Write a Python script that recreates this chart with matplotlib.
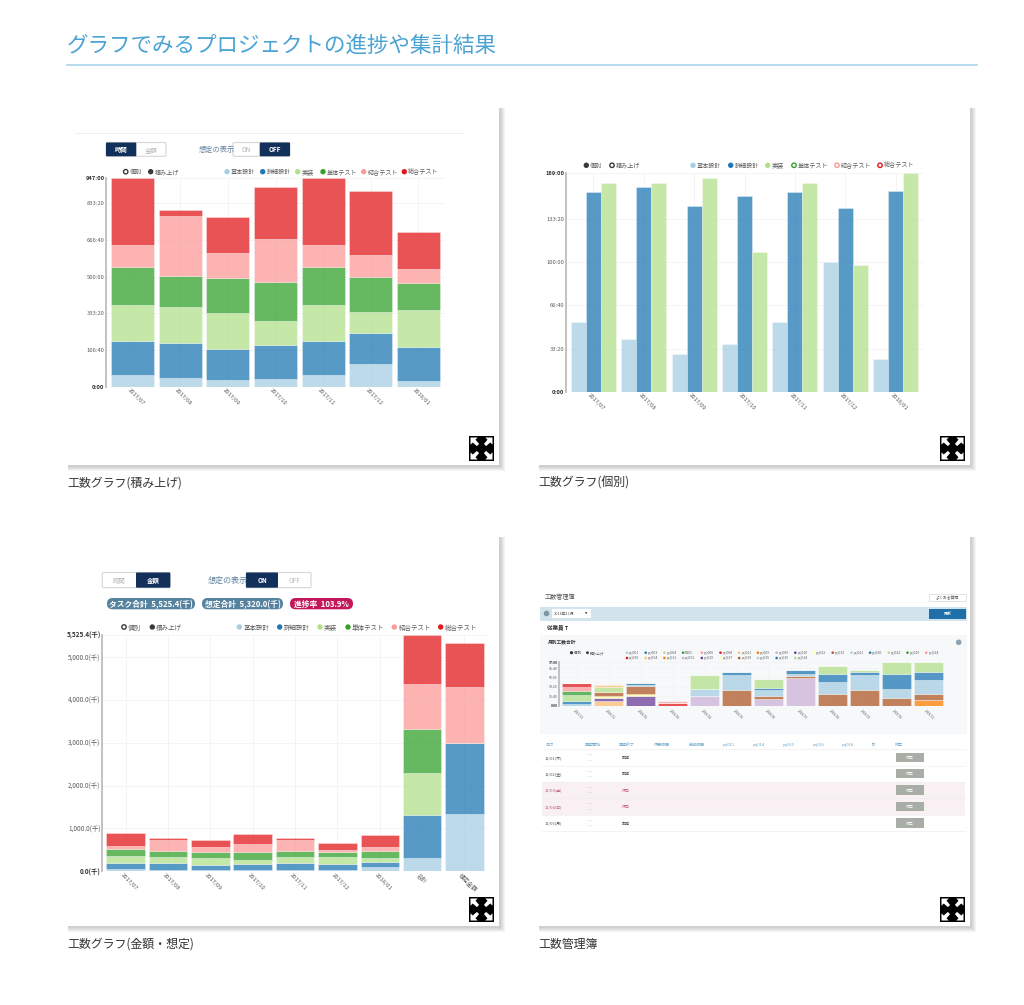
import matplotlib
matplotlib.use('Agg')
import numpy as np
import matplotlib.pyplot as plt
from matplotlib.patches import Rectangle, FancyBboxPatch, Polygon, Circle
from matplotlib.transforms import ScaledTranslation

plt.rcParams['font.family'] = ['Noto Sans CJK JP', 'DejaVu Sans']

W, H = 1024, 1005

# colours of the phases
C_BASIC = '#a6cee3'
C_DETAIL = '#1f78b4'
C_IMPL = '#b2df8a'
C_UNIT = '#33a02c'
C_INTEG = '#fb9a99'
C_SYS = '#e31a1c'
NAVY = '#12305a'
GREY_TXT = '#5c5c5c'

months = ['2017/07', '2017/08', '2017/09', '2017/10', '2017/11', '2017/12', '2018/01']
phases = ['基本設計', '詳細設計', '実装', '単体テスト', '結合テスト', '総合テスト']

# stacked hours chart
st_basic = [53, 41, 29, 36, 53, 102, 26]
st_detail = [155, 159, 142, 152, 155, 141, 153]
st_impl = [162, 161, 165, 108, 162, 98, 170]
st_unit = [173, 142, 155, 179, 173, 159, 123]
st_integ = [102, 271, 115, 195, 102, 97, 61]
st_sys = [302, 27, 164, 235, 302, 291, 167]
st_ticks = [0, 166.667, 333.333, 500, 666.667, 833.333, 947]
st_ticklabels = ['0:00', '166:40', '333:20', '500:00', '666:40', '833:20', '947:00']

# grouped hours chart
gr_basic = [54, 41, 29, 37, 54, 100, 25]
gr_detail = [154, 158, 143, 151, 154, 142, 154.5]
gr_impl = [161, 161, 165, 108, 161, 98, 169]
gr_ticks = [0, 33.333, 66.667, 100, 133.333, 169]
gr_ticklabels = ['0:00', '33:20', '66:40', '100:00', '133:20', '169:00']

# cost chart
cost_cats = months + ['合計', '想定金額']
cost_basic = [54, 40, 31, 31, 40, 31, 101, 311, 1330]
cost_detail = [140, 148, 124, 140, 148, 140, 124, 1004, 1660]
cost_impl = [156, 156, 156, 101, 156, 156, 93, 972, 0]
cost_unit = [163, 132, 148, 171, 132, 117, 148, 1027, 0]
cost_integ = [78, 257, 109, 187, 257, 54, 93, 1050, 1323]
cost_sys = [303, 39, 163, 233, 39, 171, 288, 1161, 1007]
cost_ticks = [0, 1000, 2000, 3000, 4000, 5000, 5525.4]
cost_ticklabels = ['0.0(千)', '1,000.0(千)', '2,000.0(千)', '3,000.0(千)', '4,000.0(千)',
                   '5,000.0(千)', '5,525.4(千)']

# project chart in the ledger screenshot
led_months = ['2017/12', '2018/01', '2018/02', '2018/03', '2018/04', '2018/05', '2018/06',
              '2018/07', '2018/08', '2018/09', '2018/10', '2018/11']
led_ticks = [0, 16.667, 33.333, 50, 66.667, 77]
led_ticklabels = ['0:00', '16:40', '33:20', '50:00', '66:40', '77:00']
led_colors = ['#a6cee3', '#1f78b4', '#b2df8a', '#33a02c', '#fb9a99', '#e31a1c', '#fdbf6f', '#ff7f00',
              '#cab2d6', '#6a3d9a', '#ffff99', '#b15928', '#a6cee3', '#1f78b4', '#b2df8a', '#fb9a99',
              '#fdbf6f']
led_series = [
    [3, 0, 0, 0, 0, 0, 0, 0, 0, 0, 0, 0],
    [5.9, 0, 0, 0, 0, 0, 0, 0, 0, 0, 0, 0],
    [9.4, 0, 0, 0, 0, 0, 0, 0, 0, 0, 0, 0],
    [7.1, 0, 0, 0, 0, 0, 0, 0, 0, 0, 0, 0],
    [7.1, 0, 0, 0, 0, 0, 0, 0, 0, 0, 0, 0],
    [8.3, 0, 0, 4.7, 0, 0, 0, 0, 0, 0, 0, 0],
    [0, 8.9, 0, 0, 0, 0, 0, 0, 0, 0, 0, 0],
    [0, 0, 0, 0, 0, 0, 0, 0, 0, 0, 0, 10.6],
    [0, 0, 0, 0, 17.1, 0, 11.8, 49, 0, 0, 0, 0],
    [0, 4.1, 17.7, 0, 0, 0, 0, 0, 0, 0, 0, 0],
    [0, 4.7, 2.4, 0, 0, 0, 0, 0, 0, 0, 0, 0],
    [0, 5.9, 14.8, 0, 0, 27.7, 5.9, 4.1, 21.2, 27.7, 14.2, 10.6],
    [0, 0, 1.8, 0, 12.4, 26.6, 9.4, 2.4, 20.1, 27.1, 15.9, 23.6],
    [0, 0, 3.5, 0, 0, 4.7, 3.5, 7.1, 14.8, 4.1, 25.4, 14.2],
    [0, 8.9, 0, 0, 24.8, 0, 17.1, 0, 13.6, 4.7, 21.2, 17.7],
    [0, 0, 0, 3, 0, 0, 0, 0, 0, 0, 0, 0],
    [0, 4.7, 0, 0, 0, 0, 0, 0, 0, 0, 0, 0],
]
led_leg1 = ['prj001', 'prj003', 'prj004', 'R101', 'prj006', 'prj008', 'prj021', 'prj009', 'prj009',
            'prj010', 'prj012', 'prj013', 'prj021', 'prj020', 'prj022', 'prj025', 'prj024']
led_leg2 = ['prj050', 'prj054', 'prj011', 'prj052', 'prj019', 'prj017', 'prj019', 'prj015', 'prj015',
            'prj014']
led_leg1_colors = led_colors[:12] + ['#a6cee3', '#1f78b4', '#b2df8a', '#33a02c', '#fb9a99']
led_leg2_colors = ['#e31a1c', '#fdbf6f', '#ff7f00', '#cab2d6', '#6a3d9a', '#ffff99', '#b15928',
                   '#a6cee3', '#1f78b4', '#b2df8a']

table_cols = ['日付', '業務開始', '業務終了', '休憩時間', '労働時間', 'prj011', 'prj014', 'prj015', 'prj016',
              'prj018', '計', '修正']
table_days = ['11/01(木)', '11/02(金)', '11/03(土)', '11/04(日)', '11/05(月)']
table_status = ['勤務', '勤務', '休日', '休日', '勤務']

fig = plt.figure(figsize=(W / 100, H / 100), dpi=100, facecolor='white')
bg = fig.add_axes([0, 0, 1, 1], zorder=0)
bg.set_xlim(0, W)
bg.set_ylim(H, 0)
bg.axis('off')


def pix_axes(x0, y0, x1, y1):
    ax = fig.add_axes([x0 / W, 1 - y1 / H, (x1 - x0) / W, (y1 - y0) / H], zorder=2)
    ax.patch.set_alpha(0)
    return ax


def label(x, y, s, fs, color=GREY_TXT, **kw):
    # baseline placed so that every string sits on one line, whatever its glyphs
    bg.text(x, y + fs * 0.55, s, fontsize=fs, color=color, va='baseline', **kw)


def card(x0, y0, x1, y1):
    for i in range(1, 6):
        bg.add_patch(Rectangle((x0 + 1, y0 + 2), x1 - x0 + i, y1 - y0 + i - 1, fc='#000000', alpha=0.04,
                               lw=0))
    bg.add_patch(Rectangle((x0, y0), x1 - x0, y1 - y0, fc='white', lw=0))
    # expand icon
    ix0, iy0 = x1 - 30, y1 - 29
    s = 25
    bg.add_patch(Rectangle((ix0, iy0), s, s, fc='black', lw=0))
    cx, cy = ix0 + s / 2, iy0 + s / 2
    for sx, sy in [(-1, -1), (1, -1), (-1, 1), (1, 1)]:
        pts = [(11, 11), (3.8, 11), (6, 8.8), (2.4, 4.6), (4.6, 2.4), (8.8, 6), (11, 3.8)]
        bg.add_patch(Polygon([(cx + sx * a, cy + sy * b) for a, b in pts], fc='white', lw=0))


def style_axes(ax, ticks, labels, xlim, ymax, fs=4.2, xfs=4.2, pad_x=2, dx=-4.5):
    ax.set_xlim(*xlim)
    ax.set_ylim(0, ymax)
    ax.set_yticks(ticks)
    ax.set_yticklabels(labels, fontsize=fs, color=GREY_TXT)
    for i in (0, len(labels) - 1):
        ax.get_yticklabels()[i].set_fontweight('bold')
        ax.get_yticklabels()[i].set_color('#333333')
    ax.grid(True, color='#f4f4f4', lw=0.7)
    ax.set_axisbelow(True)
    for s in ('top', 'right', 'bottom'):
        ax.spines[s].set_visible(False)
    ax.spines['left'].set_color('#bdbdbd')
    ax.spines['left'].set_linewidth(1.3)
    ax.tick_params(axis='y', length=0, pad=1)
    ax.tick_params(axis='x', length=0, pad=pad_x)
    shift = ScaledTranslation(dx / 100, 0, fig.dpi_scale_trans)
    for t in ax.get_xticklabels():
        t.set_rotation(-45)
        t.set_ha('left')
        t.set_va('center')
        t.set_rotation_mode('anchor')
        t.set_fontsize(xfs)
        t.set_color(GREY_TXT)
        t.set_transform(t.get_transform() + shift)


def stacked(ax, cats, series, colors, width):
    xs = np.arange(len(cats))
    bottom = np.zeros(len(cats))
    for vals, c in zip(series, colors):
        vals = np.array(vals, dtype=float)
        ax.bar(xs, vals, width, bottom=bottom, color=matplotlib.colors.to_rgba(c, 0.75),
               edgecolor=(1, 1, 1, 0.45), linewidth=0.5)
        bottom = bottom + vals
    ax.set_xticks(xs)
    ax.set_xticklabels(cats)


def dot(x, y, color, hollow=False, r=2.7):
    if hollow:
        bg.add_patch(Circle((x, y), r - 0.5, fc='white', ec=color, lw=1.0))
    else:
        bg.add_patch(Circle((x, y), r, fc=color, lw=0))


def legend(y, kind_x, kind_hollow, phase_x, phase_hollow, fs=4.4):
    colors = [C_BASIC, C_DETAIL, C_IMPL, C_UNIT, C_INTEG, C_SYS]
    for x, name, h in zip(kind_x, ['個別', '積み上げ'], kind_hollow):
        dot(x, y, '#3a3a3a', h)
        label(x + 4, y, name, fs)
    for x, name, c, h in zip(phase_x, phases, colors, phase_hollow):
        dot(x, y, c, h)
        label(x + 4, y, name, fs)


def toggle(x0, x1, xm, y0, y1, left, right, left_on):
    bg.add_patch(FancyBboxPatch((x0, y0), x1 - x0, y1 - y0, boxstyle='round,pad=0,rounding_size=1.5',
                                fc='white', ec='#d5d5d5', lw=0.8))
    if left_on:
        bg.add_patch(FancyBboxPatch((x0, y0), xm - x0, y1 - y0, boxstyle='round,pad=0,rounding_size=1',
                                    fc=NAVY, lw=0))
    else:
        bg.add_patch(FancyBboxPatch((xm, y0), x1 - xm, y1 - y0, boxstyle='round,pad=0,rounding_size=1',
                                    fc=NAVY, lw=0))
    ym = (y0 + y1) / 2
    label((x0 + xm) / 2, ym, left, 4.6, 'white' if left_on else '#b5b5b5', ha='center',
          fontweight='bold' if left_on else 'normal')
    label((xm + x1) / 2, ym, right, 4.6, '#b5b5b5' if left_on else 'white', ha='center',
          fontweight='normal' if left_on else 'bold')


def pill(x0, x1, y0, y1, text, color):
    r = (y1 - y0) / 2
    bg.add_patch(FancyBboxPatch((x0, y0), x1 - x0, y1 - y0, boxstyle='round,pad=0,rounding_size=%f' % r,
                                fc=color, lw=0))
    label((x0 + x1) / 2, (y0 + y1) / 2, text, 5.6, 'white', ha='center', fontweight='bold')


# page heading
bg.text(67, 46, 'グラフでみるプロジェクトの進捗や集計結果', fontsize=15.5, color='#4ba3d3', va='center')
bg.plot([67, 977], [64.5, 64.5], color='#a9d6ec', lw=1.2)

card(67, 106, 499, 465)
card(538, 106, 970, 465)
card(67, 535, 499, 926)
card(538, 535, 970, 926)

label(67, 482, '工数グラフ(積み上げ)', 8.6, '#333333')
label(538, 482, '工数グラフ(個別)', 8.6, '#333333')
label(67, 943, '工数グラフ(金額・想定)', 8.6, '#333333')
label(538, 943, '工数管理簿', 8.6, '#333333')

# chart 1: stacked hours
bg.plot([75, 464], [133.3, 133.3], color='#eeeeee', lw=0.7)
toggle(106, 166, 136.3, 142.5, 156.3, '時間', '金額', True)
label(199, 149, '想定の表示', 5.2, '#5d7f9f')
toggle(233, 290, 259.7, 142.5, 156.3, 'ON', 'OFF', False)
legend(171.7, [125.7, 150.7], [True, False], [227, 262.7, 297.7, 323, 363.7, 404.3], [False] * 6)
ax1 = pix_axes(106, 178, 445, 386.7)
stacked(ax1, months, [st_basic, st_detail, st_impl, st_unit, st_integ, st_sys],
        [C_BASIC, C_DETAIL, C_IMPL, C_UNIT, C_INTEG, C_SYS], 0.902)
style_axes(ax1, st_ticks, st_ticklabels, (-0.559, 6.559), 947)

# chart 2: grouped hours
legend(165.3, [586.3, 612], [False, True], [693, 730.7, 767.7, 794, 837, 880],
       [False, False, False, True, True, True])
ax2 = pix_axes(566, 172.7, 923, 391.7)
xs2 = np.arange(len(months))
w2 = 0.298
for off, vals, c in [(-1, gr_basic, C_BASIC), (0, gr_detail, C_DETAIL), (1, gr_impl, C_IMPL)]:
    ax2.bar(xs2 + off * w2, vals, w2, color=matplotlib.colors.to_rgba(c, 0.75),
            edgecolor=(1, 1, 1, 0.45), linewidth=0.5)
ax2.set_xticks(xs2)
ax2.set_xticklabels(months)
style_axes(ax2, gr_ticks, gr_ticklabels, (-0.546, 6.546), 169)

# chart 3: cost
toggle(102.3, 170.3, 136, 572.5, 587.7, '時間', '金額', False)
label(207.5, 579.5, '想定の表示', 5.8, '#5d7f9f')
toggle(246, 311, 278, 572.5, 587.7, 'ON', 'OFF', True)
pill(107, 195, 598, 609.3, 'タスク合計  5,525.4(千)', '#55829f')
pill(202, 283, 598, 609.3, '想定合計  5,320.0(千)', '#55829f')
pill(290, 353, 598, 609.3, '進捗率  103.9%', '#c2185b')
legend(627, [124, 152.3], [True, False], [239.3, 279.7, 320, 348, 394.3, 440.7], [False] * 6, fs=4.7)
ax3 = pix_axes(102, 634.7, 487, 871.3)
stacked(ax3, cost_cats, [cost_basic, cost_detail, cost_impl, cost_unit, cost_integ, cost_sys],
        [C_BASIC, C_DETAIL, C_IMPL, C_UNIT, C_INTEG, C_SYS], 0.906)
style_axes(ax3, cost_ticks, cost_ticklabels, (-0.559, 8.535), 5525.4, fs=4.6)

# chart 4: ledger screenshot
label(545, 596.5, '工数管理簿', 4.4, '#555555')
bg.add_patch(Rectangle((929, 594), 37, 7, fc='white', ec='#d8d8d8', lw=0.5))
label(947.5, 597.5, 'よくある質問', 2.8, '#555555', ha='center')
bg.add_patch(Rectangle((540, 606.7), 427, 14, fc='#d3e3ec', lw=0))
bg.add_patch(Circle((546.5, 613.5), 2.8, fc='#7f97a6', lw=0))
bg.add_patch(Rectangle((552, 609), 39, 9, fc='white', lw=0))
label(554, 613.5, '2018年11月', 2.8, '#555555')
bg.text(586, 613.5, '▼', fontsize=2.2, color='#444444', va='center', ha='center',
        family=['DejaVu Sans'])
bg.add_patch(Rectangle((929, 608.5), 37, 10, fc='#1f6fa8', lw=0))
label(947.5, 613.5, '更新', 3, 'white', ha='center')
label(547, 627.5, '従業員 T', 4, '#333333', fontweight='bold')
bg.add_patch(Rectangle((540, 635), 427, 99, fc='#f6f8fa', lw=0))
label(547.5, 642, '月別工数合計', 3.4, '#333333', fontweight='bold')
bg.add_patch(Circle((958.7, 642.3), 2.8, fc='#8ea3b0', lw=0))

for x, name, h in [(571.5, '個別', True), (587.5, '積み上げ', False)]:
    dot(x, 652.7, '#333333', h, r=1.4)
    label(x + 2.5, 652.7, name, 2.6)
leg_xs = np.arange(17) * 18.7 + 627
for x, name, c in zip(leg_xs, led_leg1, led_leg1_colors):
    dot(x, 652.7, c, r=1.3)
    label(x + 2, 652.7, name, 2.5)
for x, name, c in zip(leg_xs, led_leg2, led_leg2_colors):
    dot(x, 658, c, r=1.3)
    label(x + 2, 658, name, 2.5)

ax4 = pix_axes(559, 662.2, 945, 705.7)
stacked(ax4, led_months, led_series, led_colors, 0.906)
style_axes(ax4, led_ticks, led_ticklabels, (-0.552, 11.52), 77, fs=2.5, xfs=2.4, pad_x=3, dx=-3)

# ledger table
col_x = [545, 584.5, 618.5, 653.5, 688.5, 723, 753, 782.5, 812.5, 842, 872, 895]
for x, name in zip(col_x, table_cols):
    label(x, 744, name, 2.9, '#6aa5c8')
row_lines = [749.3, 765.7, 782, 798.3, 815, 831.3]
bg.add_patch(Rectangle((542, row_lines[2]), 423, row_lines[4] - row_lines[2], fc='#f9f0f4', lw=0))
for y in row_lines:
    bg.plot([542, 965], [y, y], color='#eeeeee', lw=0.5)
for i, (day, status) in enumerate(zip(table_days, table_status)):
    yc = (row_lines[i] + row_lines[i + 1]) / 2
    col = '#c0527c' if status == '休日' else '#555555'
    label(545, yc, day, 2.9, col)
    label(590, yc - 2.7, '--:--', 2.5, '#999999', ha='center')
    label(590, yc + 2.7, '--:--', 2.5, '#999999', ha='center')
    label(622, yc, status, 2.9, col)
    bg.add_patch(Rectangle((895.7, yc - 5), 28.6, 9.5, fc='#a8ada5', lw=0))
    label(910, yc, '修正', 2.8, 'white', ha='center')

fig.savefig('out.png', dpi=100)
